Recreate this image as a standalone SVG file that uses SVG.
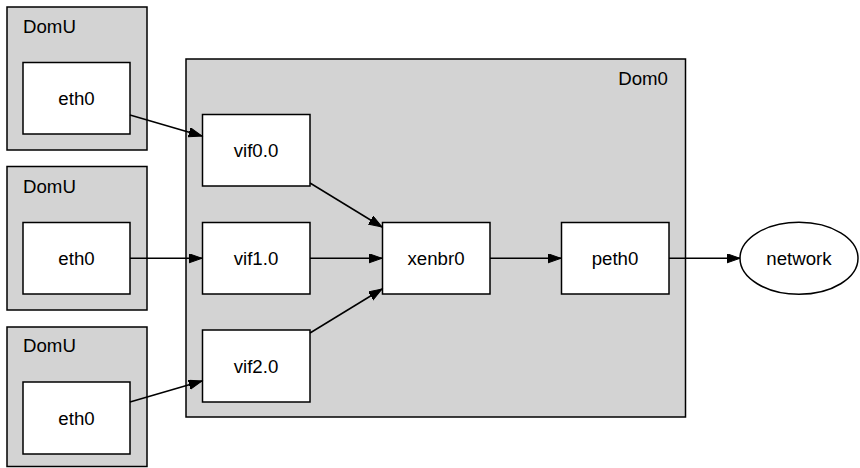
<svg xmlns="http://www.w3.org/2000/svg" width="860" height="468" viewBox="0 0 860 468">
<defs>
<style>
.cluster{fill:#d3d3d3;stroke:#000;stroke-width:1.5}
.node{fill:#fff;stroke:#000;stroke-width:1.5}
text{font-family:"Liberation Sans",Arial,sans-serif;font-size:18.67px;fill:#000}
.c{text-anchor:middle}
.edge{fill:none;stroke:#000;stroke-width:1.5}
</style>
<marker id="arr" markerUnits="userSpaceOnUse" markerWidth="15" markerHeight="11" refX="13.3" refY="4.67" orient="auto">
<path d="M0,0 L13.3,4.67 L0,9.33 z" fill="#000" stroke="#000" stroke-width="1"/>
</marker>
</defs>
<rect width="860" height="468" fill="#fff"/>
<g id="domu1">
<rect class="cluster" x="7" y="7" width="140" height="143"/>
<text x="23" y="33">DomU</text>
</g>
<g id="domu2">
<rect class="cluster" x="7" y="166.5" width="140" height="143.5"/>
<text x="23" y="193">DomU</text>
</g>
<g id="domu3">
<rect class="cluster" x="7" y="327" width="140" height="139.5"/>
<text x="23" y="352">DomU</text>
</g>
<g id="dom0">
<rect class="cluster" x="186" y="59" width="499.5" height="358"/>
<text x="668" y="85" text-anchor="end">Dom0</text>
</g>
<g id="eth0_1">
<rect class="node" x="23" y="62.5" width="107" height="71.5"/>
<text class="c" x="76.5" y="104.7">eth0</text>
</g>
<g id="eth0_2">
<rect class="node" x="23" y="222.5" width="107" height="71.5"/>
<text class="c" x="76.5" y="264.7">eth0</text>
</g>
<g id="eth0_3">
<rect class="node" x="23" y="382" width="107" height="72"/>
<text class="c" x="76.5" y="424.5">eth0</text>
</g>
<g id="vif0">
<rect class="node" x="202.5" y="114.5" width="107.5" height="71.5"/>
<text class="c" x="256" y="156.7">vif0.0</text>
</g>
<g id="vif1">
<rect class="node" x="202.5" y="222.5" width="107.5" height="71.5"/>
<text class="c" x="256" y="264.7">vif1.0</text>
</g>
<g id="vif2">
<rect class="node" x="202.5" y="330" width="107.5" height="72"/>
<text class="c" x="256" y="372.5">vif2.0</text>
</g>
<g id="xenbr0">
<rect class="node" x="382.5" y="222.5" width="107.5" height="71.5"/>
<text class="c" x="436" y="264.7">xenbr0</text>
</g>
<g id="peth0">
<rect class="node" x="561.5" y="222.5" width="107.5" height="71.5"/>
<text class="c" x="615" y="264.7">peth0</text>
</g>
<g id="network">
<ellipse class="node" cx="799" cy="258.3" rx="59" ry="36"/>
<text class="c" x="799" y="264.7">network</text>
</g>
<g id="edges">
<path class="edge" marker-end="url(#arr)" d="M130,115 L202,136"/>
<path class="edge" marker-end="url(#arr)" d="M130,258.3 L202,258.3"/>
<path class="edge" marker-end="url(#arr)" d="M130,402 L202,381"/>
<path class="edge" marker-end="url(#arr)" d="M310,183 L382,227"/>
<path class="edge" marker-end="url(#arr)" d="M310,258.3 L382,258.3"/>
<path class="edge" marker-end="url(#arr)" d="M310,333 L382,289"/>
<path class="edge" marker-end="url(#arr)" d="M490,258.3 L561,258.3"/>
<path class="edge" marker-end="url(#arr)" d="M669,258.3 L740,258.3"/>
</g>
</svg>
